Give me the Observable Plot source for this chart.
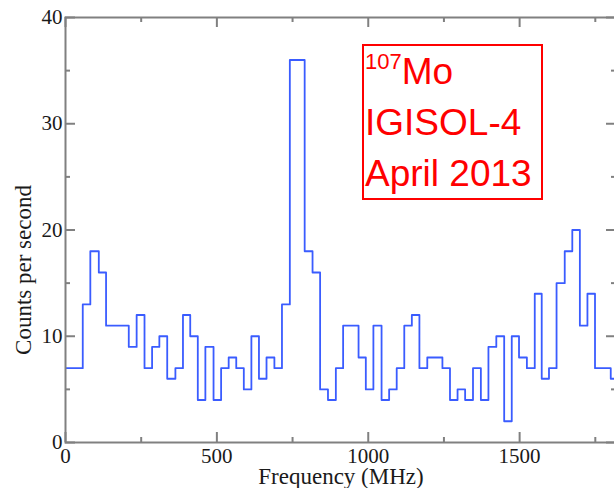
<!DOCTYPE html>
<html>
<head>
<meta charset="utf-8">
<script src="https://cdn.jsdelivr.net/npm/d3@7"></script>
<script src="https://cdn.jsdelivr.net/npm/@observablehq/plot@0.6"></script>
<style>
  html, body { margin: 0; padding: 0; background: #fff; overflow: hidden; }
  #wrap { position: relative; width: 614px; height: 488px; overflow: hidden; background: #fff; }
  #note {
    position: absolute; left: 362px; top: 44px; width: 181px; height: 156px;
    box-sizing: border-box; border: 2px solid #ff0000; color: #ff0000;
    font-family: "Liberation Sans", Arial, sans-serif; font-size: 37px; line-height: 51px;
    padding-left: 1px; white-space: nowrap;
  }
  #note .sup { font-size: 22px; line-height: 1; position: relative; top: -15px; }
</style>
</head>
<body>
<div id="wrap">
  <div id="chart"></div>
  <div id="note"><span class="sup">107</span>Mo<br>IGISOL-4<br>April 2013</div>
</div>
<script>
// Histogram bins: left edge (MHz) and counts per second
const binStart = [0, 57, 82, 110, 134, 159, 184, 209, 235, 261, 286, 310, 336, 363, 388, 412, 437, 462, 489, 514,
  539, 564, 589, 614, 639, 664, 690, 715, 741, 766, 790, 816, 841, 867, 893, 917, 943, 968, 992, 1017,
  1044, 1069, 1094, 1119, 1144, 1169, 1195, 1220, 1245, 1270, 1295, 1320, 1346, 1372, 1397, 1423, 1449, 1474, 1498, 1524,
  1550, 1573, 1597, 1622, 1649, 1674, 1699, 1724, 1749, 1774, 1801];
const counts = [7, 13, 18, 16, 11, 11, 11, 9, 12, 7, 9, 10, 6, 7, 12, 10, 4, 9, 4, 7,
  8, 7, 5, 10, 6, 8, 7, 13, 36, 36, 18, 16, 5, 4, 7, 11, 11, 8, 5, 11,
  4, 5, 7, 11, 12, 7, 8, 8, 7, 4, 5, 4, 7, 4, 9, 10, 2, 10, 8, 7,
  14, 6, 7, 15, 18, 20, 11, 14, 7, 7, 6];
const lastBinEnd = 1826;

const xTicks = [0, 500, 1000, 1500];
const xMinor = [250, 750, 1250, 1750];
const yTicks = [0, 10, 20, 30, 40];
const yMinor = [5, 15, 25, 35];
const xDomain = [0, 1820];
const yDomain = [0, 40];
const xTitle = "Frequency (MHz)";
const yTitle = "Counts per second";

const pts = binStart.map((x, i) => ({x, y: counts[i]}))
  .concat([{x: lastBinEnd, y: counts[counts.length - 1]}]);

const W = 616, H = 488, mL = 65, mR = 0, mT = 17, mB = 46;
const plotW = W - mL - mR, plotH = H - mT - mB;
const gray = "#808080";
const MAJ = 10, MIN = 5;
const tk = {stroke: gray, strokeWidth: 2};

const chart = Plot.plot({
  width: W,
  height: H,
  marginLeft: mL,
  marginRight: mR,
  marginTop: mT,
  marginBottom: mB,
  style: {fontFamily: "'Liberation Serif', 'Times New Roman', serif", fontSize: "21px", color: "#1a1a1a", background: "#fff", maxWidth: "none"},
  x: {domain: xDomain},
  y: {domain: yDomain},
  marks: [
    Plot.line(pts, {x: "x", y: "y", curve: "step-after", stroke: "#3a5cff", strokeWidth: 1.8, clip: true}),
    // inward ticks on all four sides (short rules inset from the frame)
    Plot.ruleX(xTicks, {x: d => d, insetTop: plotH - MAJ, ...tk}),
    Plot.ruleX(xMinor, {x: d => d, insetTop: plotH - MIN, ...tk}),
    Plot.ruleX(xTicks, {x: d => d, insetBottom: plotH - MAJ, ...tk}),
    Plot.ruleX(xMinor, {x: d => d, insetBottom: plotH - MIN, ...tk}),
    Plot.ruleY(yTicks, {y: d => d, insetRight: plotW - MAJ, ...tk}),
    Plot.ruleY(yMinor, {y: d => d, insetRight: plotW - MIN, ...tk}),
    Plot.ruleY(yTicks, {y: d => d, insetLeft: plotW - MAJ, ...tk}),
    Plot.ruleY(yMinor, {y: d => d, insetLeft: plotW - MIN, ...tk}),
    Plot.frame({stroke: gray, strokeWidth: 2}),
    Plot.axisX({ticks: xTicks, tickSize: 0, tickPadding: 6, label: null, tickFormat: d => String(d), fill: "#1a1a1a"}),
    Plot.axisY({ticks: yTicks, tickSize: 0, tickPadding: 3, label: null, tickFormat: d => String(d), fill: "#1a1a1a"}),
    Plot.text([xTitle], {text: d => d, frameAnchor: "bottom", lineAnchor: "middle", textAnchor: "middle", dy: 34, fontSize: 23, fill: "#1a1a1a"}),
    Plot.text([yTitle], {text: d => d, frameAnchor: "left", lineAnchor: "middle", textAnchor: "middle", rotate: -90, dx: -42, dy: 40, fontSize: 23, fill: "#1a1a1a"})
  ]
});
document.getElementById("chart").appendChild(chart);
</script>
</body>
</html>
